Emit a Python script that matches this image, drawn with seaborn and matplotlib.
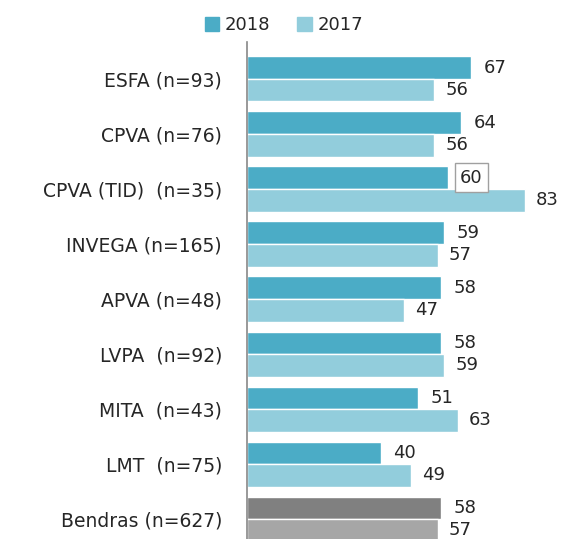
import pandas as pd
import matplotlib
matplotlib.use("Agg")
import matplotlib.pyplot as plt
import seaborn as sns

# Data
categories = ["ESFA (n=93)", "CPVA (n=76)", "CPVA (TID)  (n=35)", "INVEGA (n=165)",
              "APVA (n=48)", "LVPA  (n=92)", "MITA  (n=43)", "LMT  (n=75)", "Bendras (n=627)"]
values_2018 = [67, 64, 60, 59, 58, 58, 51, 40, 58]
values_2017 = [56, 56, 83, 57, 47, 59, 63, 49, 57]
years = ["2018", "2017"]

colors = {"2018": "#4BACC6", "2017": "#92CDDC"}
gray_colors = {"2018": "#808080", "2017": "#A6A6A6"}

df = pd.DataFrame({
    "category": categories * 2,
    "year": ["2018"] * len(categories) + ["2017"] * len(categories),
    "value": values_2018 + values_2017,
})

sns.set_style("white")
plt.rcParams["font.family"] = ["DejaVu Sans"]

fig = plt.figure(figsize=(5.68, 5.39), dpi=100)
ax = fig.add_axes([0.435, 0.0, 0.565, 0.922])

sns.barplot(data=df, y="category", x="value", hue="year", hue_order=years,
            order=categories, palette=colors, saturation=1, orient="h", width=0.82,
            edgecolor="white", linewidth=1, ax=ax, legend=False)

# Bendras row drawn in gray
for cont, yr in zip(ax.containers, years):
    cont.patches[-1].set_facecolor(gray_colors[yr])

for cont, yr in zip(ax.containers, years):
    labels = ["%d" % v for v in cont.datavalues]
    if yr == "2018":
        labels[2] = ""
    ax.bar_label(cont, labels=labels, padding=9 if yr == "2018" else 8,
                 fontsize=13, color="#262626")

# boxed label for CPVA (TID) 2018
bar = ax.containers[0].patches[2]
ax.annotate("60", xy=(bar.get_width(), bar.get_y() + bar.get_height() / 2),
            xytext=(9, 0), textcoords="offset points", va="center", ha="left",
            fontsize=13, color="#262626",
            bbox=dict(boxstyle="square,pad=0.3", fc="white", ec="#A0A0A0", lw=1))

ax.set_xlim(0, 96)
ax.set_ylim(8.36, -0.67)
ax.set_xlabel("")
ax.set_ylabel("")
ax.set_xticks([])
ax.tick_params(axis="y", length=0, pad=18, labelsize=13.5, labelcolor="#262626")
for side in ["top", "right", "bottom"]:
    ax.spines[side].set_visible(False)
ax.spines["left"].set_color("#888888")
ax.spines["left"].set_linewidth(1.2)

handles = [plt.Rectangle((0, 0), 1, 1, color=colors[y]) for y in years]
fig.legend(handles, years, loc="upper center", bbox_to_anchor=(0.5, 1.0), ncol=2,
           frameon=False, fontsize=13, handlelength=0.8, handleheight=0.8,
           handletextpad=0.3, columnspacing=1.5)

fig.savefig("out.png", dpi=100)
